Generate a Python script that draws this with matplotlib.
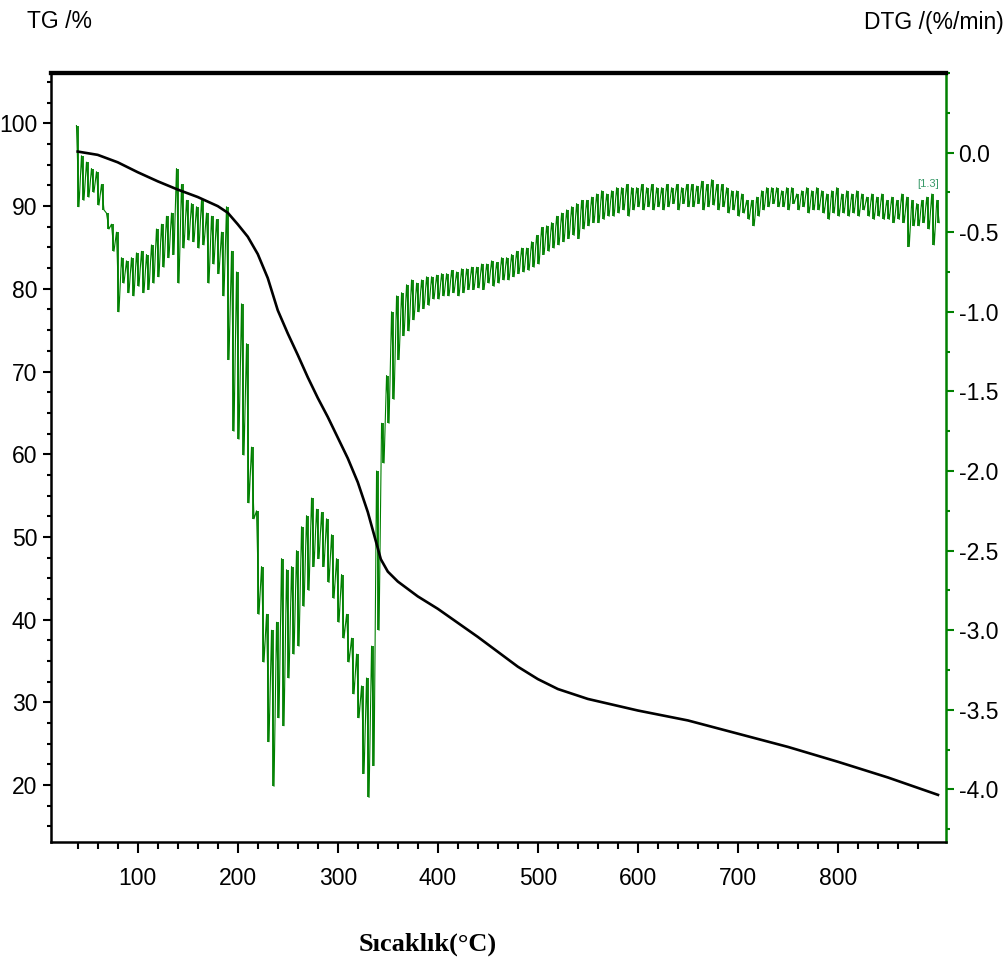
import numpy as np
import matplotlib
matplotlib.use("Agg")
import matplotlib.pyplot as plt
from matplotlib.ticker import FixedLocator, MultipleLocator

# ---------------- data ----------------
tg_temp = [40, 60, 80, 100, 120, 140, 160, 180, 190, 200, 210, 220, 230, 240, 250,
           260, 270, 280, 290, 300, 310, 320, 330, 338, 343, 350, 360, 380, 400, 420,
           440, 460, 480, 500, 520, 550, 600, 650, 700, 750, 800, 850, 900]
tg_mass = [96.6, 96.2, 95.3, 94.1, 93.0, 92.0, 91.1, 90.0, 89.2, 87.8, 86.3, 84.2, 81.3, 77.4, 74.6,
           72.0, 69.3, 66.8, 64.5, 62.0, 59.5, 56.6, 53.0, 49.5, 47.3, 45.8, 44.6, 42.8, 41.3, 39.6,
           37.9, 36.1, 34.3, 32.8, 31.6, 30.4, 29.0, 27.8, 26.2, 24.6, 22.8, 20.9, 18.8]

dtg_temp = np.arange(40, 905, 5)
dtg_hi = [0.17, -0.02, -0.06, -0.10, -0.12, -0.20, -0.38, -0.45, -0.50, -0.66,
          -0.68, -0.66, -0.63, -0.62, -0.64, -0.58, -0.48, -0.45, -0.40, -0.38,
          -0.10, -0.20, -0.30, -0.32, -0.34, -0.30, -0.38, -0.40, -0.42, -0.50,
          -0.34, -0.62, -0.75, -0.95, -1.20, -1.85, -2.25, -2.60, -2.90, -3.00,
          -2.95, -2.55, -2.62, -2.60, -2.50, -2.35, -2.28, -2.17, -2.24, -2.26,
          -2.30, -2.40, -2.55, -2.65, -2.90, -3.05, -3.15, -3.35, -3.30, -3.10,
          -2.00, -1.70, -1.40, -1.00, -0.90, -0.88, -0.83, -0.80, -0.82, -0.80,
          -0.78, -0.78, -0.77, -0.76, -0.76, -0.74, -0.75, -0.73, -0.73, -0.72,
          -0.72, -0.70, -0.70, -0.68, -0.69, -0.66, -0.66, -0.64, -0.62, -0.60,
          -0.60, -0.56, -0.52, -0.47, -0.46, -0.44, -0.40, -0.38, -0.36, -0.34,
          -0.32, -0.30, -0.30, -0.28, -0.26, -0.24, -0.26, -0.24, -0.22, -0.22,
          -0.20, -0.22, -0.22, -0.20, -0.22, -0.20, -0.22, -0.22, -0.20, -0.22,
          -0.20, -0.22, -0.20, -0.20, -0.21, -0.18, -0.20, -0.17, -0.20, -0.20,
          -0.22, -0.24, -0.24, -0.26, -0.30, -0.30, -0.28, -0.24, -0.22, -0.22,
          -0.22, -0.24, -0.22, -0.22, -0.26, -0.24, -0.22, -0.24, -0.22, -0.24,
          -0.26, -0.24, -0.22, -0.26, -0.24, -0.26, -0.24, -0.26, -0.28, -0.26,
          -0.28, -0.26, -0.30, -0.28, -0.30, -0.26, -0.28, -0.30, -0.32, -0.30,
          -0.28, -0.26, -0.30]
dtg_lo = [-0.34, -0.30, -0.28, -0.25, -0.33, -0.36, -0.48, -0.62, -1.00, -0.82,
          -0.88, -0.90, -0.84, -0.88, -0.86, -0.82, -0.78, -0.72, -0.66, -0.64,
          -0.82, -0.60, -0.55, -0.56, -0.60, -0.58, -0.82, -0.70, -0.76, -0.90,
          -1.30, -1.75, -1.80, -1.90, -2.20, -2.30, -2.90, -3.20, -3.70, -3.98,
          -3.55, -3.60, -3.30, -3.15, -3.10, -2.85, -2.75, -2.60, -2.55, -2.60,
          -2.70, -2.80, -2.95, -3.05, -3.20, -3.40, -3.55, -3.90, -4.05, -3.85,
          -3.00, -1.95, -1.70, -1.55, -1.30, -1.15, -1.12, -1.05, -1.00, -0.98,
          -0.96, -0.92, -0.92, -0.90, -0.90, -0.88, -0.90, -0.88, -0.86, -0.86,
          -0.85, -0.86, -0.82, -0.84, -0.82, -0.80, -0.80, -0.78, -0.76, -0.75,
          -0.74, -0.72, -0.70, -0.64, -0.62, -0.60, -0.58, -0.56, -0.54, -0.52,
          -0.54, -0.48, -0.46, -0.44, -0.44, -0.42, -0.40, -0.40, -0.38, -0.36,
          -0.40, -0.36, -0.34, -0.36, -0.34, -0.36, -0.34, -0.36, -0.34, -0.32,
          -0.36, -0.32, -0.34, -0.34, -0.32, -0.36, -0.34, -0.33, -0.36, -0.34,
          -0.38, -0.36, -0.40, -0.38, -0.42, -0.46, -0.40, -0.36, -0.34, -0.32,
          -0.34, -0.34, -0.36, -0.32, -0.36, -0.34, -0.38, -0.36, -0.36, -0.38,
          -0.42, -0.38, -0.40, -0.38, -0.40, -0.38, -0.40, -0.36, -0.40, -0.42,
          -0.40, -0.42, -0.42, -0.44, -0.42, -0.44, -0.59, -0.46, -0.46, -0.44,
          -0.48, -0.58, -0.44]

x_major = [100, 200, 300, 400, 500, 600, 700, 800]
tg_major = [20, 30, 40, 50, 60, 70, 80, 90, 100]
dtg_major = [0.0, -0.5, -1.0, -1.5, -2.0, -2.5, -3.0, -3.5, -4.0]

# ---------------- figure ----------------
W, H = 1008, 965
fig = plt.figure(figsize=(W / 100, H / 100), dpi=100)
ax = fig.add_axes([51 / W, 1 - 842 / H, (946 - 51) / W, (842 - 73) / H])
ax2 = ax.twinx()

tick_font = ["Liberation Sans", "DejaVu Sans"]
fs = 16.5

green = "#008000"

# DTG: noisy band drawn as vertical strokes between its edges plus a zigzag
ax2.vlines(dtg_temp, dtg_lo, dtg_hi, color=green, lw=1.3, zorder=2)
zx, zy = [], []
for t, h, l in zip(dtg_temp, dtg_hi, dtg_lo):
    zx += [t - 1.25, t + 1.25]
    zy += [h, l]
ax2.plot(zx, zy, color=green, lw=0.8, zorder=2)
ax2.text(890, -0.2, "[1.3]", color="#3a9a6a", fontsize=8, ha="center", va="center",
         family=tick_font)

# TG
ax.plot(tg_temp, tg_mass, color="black", lw=1.9, zorder=3)
ax.set_zorder(ax2.get_zorder() + 1)
ax.patch.set_visible(False)

ax.set_xlim(13.3, 908)
ax.set_ylim(13.1, 106.1)
ax2.set_ylim(-4.33, 0.5)

ax.xaxis.set_major_locator(FixedLocator(x_major))
ax.xaxis.set_minor_locator(FixedLocator([v for v in range(40, 900, 20) if v % 100 != 0]))
ax.yaxis.set_major_locator(FixedLocator(tg_major))
ax.yaxis.set_minor_locator(MultipleLocator(2.5))
ax2.yaxis.set_major_locator(FixedLocator(dtg_major))
ax2.yaxis.set_minor_locator(MultipleLocator(0.25))

ax.set_xticklabels([str(v) for v in x_major], fontsize=fs, family=tick_font)
ax.set_yticklabels([str(v) for v in tg_major], fontsize=fs, family=tick_font)
ax2.set_yticklabels([f"{v:.1f}" for v in dtg_major], fontsize=fs, family=tick_font)

ax.tick_params(axis="x", which="major", length=8, width=1.5, direction="out", pad=10)
ax.tick_params(axis="x", which="minor", length=5, width=1.5, direction="out")
ax.tick_params(axis="y", which="major", length=6, width=1.5, direction="out", pad=4)
ax.tick_params(axis="y", which="minor", length=3, width=1.5, direction="out")
ax2.tick_params(axis="y", which="major", length=6, width=1.5, color=green, direction="out",
                pad=3, labelcolor="black")
ax2.tick_params(axis="y", which="minor", length=3, width=1.5, color=green, direction="out")

for a in (ax, ax2):
    a.spines["top"].set_linewidth(3)
    a.spines["top"].set_color("black")
    a.spines["left"].set_linewidth(1.8)
    a.spines["bottom"].set_linewidth(1.8)
    a.spines["right"].set_linewidth(1.8)
ax.spines["right"].set_visible(False)
ax2.spines["right"].set_color(green)
ax2.spines["left"].set_visible(False)
ax2.spines["bottom"].set_visible(False)

fig.text(27 / W, 1 - 22 / H, "TG /%", fontsize=fs, family=tick_font, ha="left", va="center")
fig.text(1004 / W, 1 - 22 / H, "DTG /(%/min)", fontsize=fs, family=tick_font,
         ha="right", va="center")
fig.text(428 / W, 1 - 944 / H, "Sıcaklık(°C)", fontsize=19, fontweight="bold",
         family=["Liberation Serif", "DejaVu Serif"], ha="center", va="center")

fig.savefig("out.png", dpi=100)
